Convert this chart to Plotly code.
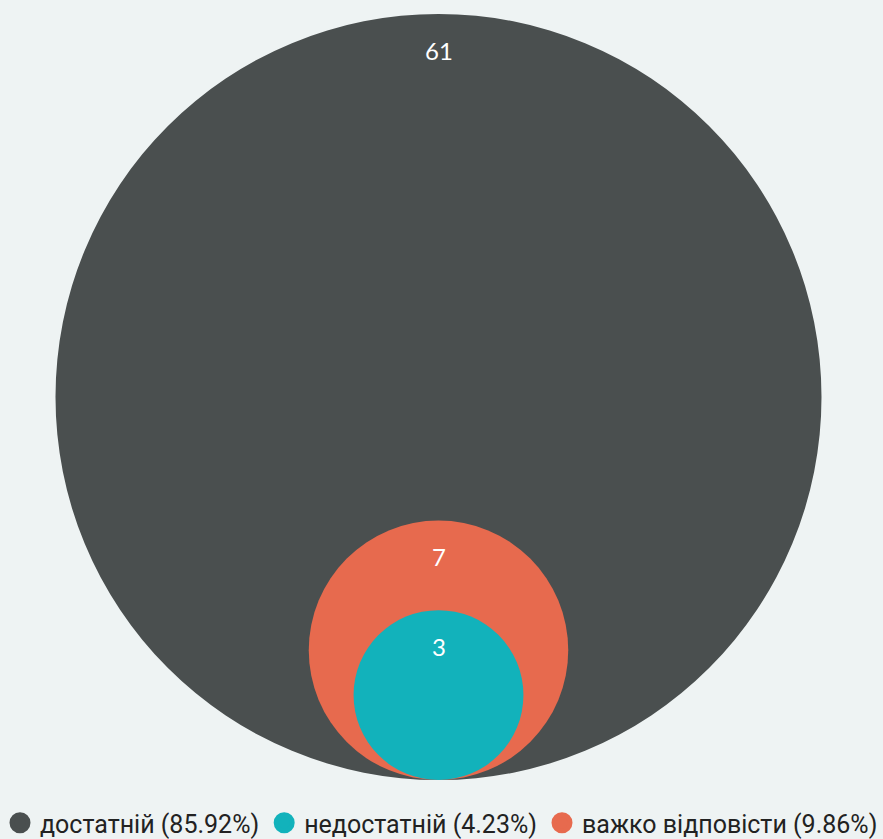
import math
import plotly.graph_objects as go

# Data
categories = ["достатній", "недостатній", "важко відповісти"]
values = [61, 3, 7]
percents = ["85.92%", "4.23%", "9.86%"]
colors = ["#4a4f4f", "#12b2bb", "#e76a4e"]

W, H = 883, 839
bg = "#eef3f3"
px_per_unit = 383.0 / math.sqrt(max(values))  # scale: radius = sqrt(value)
cx_px, bottom_px, plot_bottom_px = 438.5, 780.0, 800.0

fig = go.Figure()

# legend entries
for cat, pct, col in zip(categories, percents, colors):
    fig.add_trace(go.Scatter(
        x=[None], y=[None], mode="markers", name=f"{cat} ({pct})",
        marker=dict(color=col, size=16, symbol="circle", line=dict(color=col, width=5)),
        hoverinfo="skip", showlegend=True))

# circles, largest first, all resting on the same baseline
order = sorted(range(len(values)), key=lambda i: -values[i])
shapes, annotations = [], []
for i in order:
    r = math.sqrt(values[i])
    shapes.append(dict(type="circle", xref="x", yref="y",
                       x0=-r, x1=r, y0=0, y1=2 * r,
                       fillcolor=colors[i], line=dict(width=0), layer="below"))
    annotations.append(dict(x=0, y=2 * r - 36 / px_per_unit, xref="x", yref="y",
                            text=str(values[i]), showarrow=False,
                            font=dict(color="white", size=24, family="Lato")))

xr = [-cx_px / px_per_unit, (W - cx_px) / px_per_unit]
yr = [-(plot_bottom_px - bottom_px) / px_per_unit, bottom_px / px_per_unit]

fig.update_layout(
    width=W, height=H,
    margin=dict(l=0, r=0, t=0, b=H - plot_bottom_px),
    paper_bgcolor=bg, plot_bgcolor=bg,
    shapes=shapes, annotations=annotations,
    xaxis=dict(range=xr, visible=False, fixedrange=True),
    yaxis=dict(range=yr, visible=False, fixedrange=True),
    showlegend=True,
    legend=dict(orientation="h", x=0.5, xanchor="center",
                yref="container", y=1 - 823 / H, yanchor="middle",
                font=dict(family="Roboto", size=25, color="#222222"),
                bgcolor="rgba(0,0,0,0)", itemclick=False),
    font=dict(family="Lato"),
)

fig.write_html("out.html", config={"displayModeBar": False},
               post_script="document.body.style.margin='0';document.body.style.background='%s';" % bg)
